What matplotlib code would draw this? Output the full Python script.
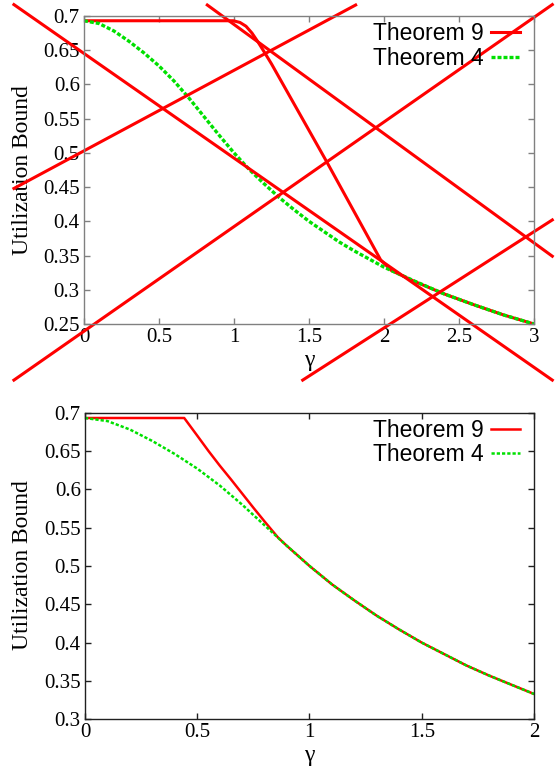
import numpy as np
import matplotlib
matplotlib.use('Agg')
import matplotlib.pyplot as plt

# Theorem 4 curve, shared by both panels
gamma_t4 = [0, 0.1, 0.2, 0.3, 0.4, 0.5, 0.6, 0.7, 0.8, 0.9, 1.0, 1.1, 1.2, 1.3, 1.4,
            1.5, 1.6, 1.7, 1.8, 1.9, 2.0, 2.2, 2.4, 2.6, 2.8, 3.0]
util_t4 = [0.693, 0.689, 0.678, 0.663, 0.646, 0.627, 0.605, 0.580, 0.553, 0.526, 0.500,
           0.476, 0.455, 0.435, 0.417, 0.400, 0.385, 0.370, 0.357, 0.345, 0.333, 0.313,
           0.294, 0.278, 0.263, 0.250]

# Theorem 9, top panel
gamma_t9_top = [0, 0.996, 1.04, 1.08, 1.12, 1.16, 1.2, 1.25, 1.618,
                1.978, 2.05, 2.2, 2.4, 2.6, 2.8, 3.0]
util_t9_top = [0.693, 0.693, 0.6905, 0.685, 0.675, 0.662, 0.648, 0.630, 0.487,
               0.3435, 0.328, 0.3125, 0.294, 0.278, 0.263, 0.250]

# Theorem 9, bottom panel
gamma_t9_bot = [0, 0.442, 0.5, 0.55, 0.6, 0.65, 0.7, 0.75, 0.8, 0.86, 0.9, 1.0, 1.1, 1.2,
                1.3, 1.4, 1.5, 1.6, 1.7, 1.8, 1.9, 2.0]
util_t9_bot = [0.693, 0.693, 0.670, 0.650, 0.631, 0.613, 0.5945, 0.576, 0.558, 0.537, 0.526,
               0.500, 0.476, 0.455, 0.435, 0.417, 0.400, 0.385, 0.370, 0.357, 0.345, 0.333]

# red strike lines drawn across the top panel (start gamma, start u, end gamma, end u)
strike_g0 = [-0.467, -0.467, -0.467, 0.822, 1.458]
strike_u0 = [0.7166, 0.448, 0.168, 0.716, 0.168]
strike_g1 = [3.122, 1.811, 3.122, 3.122, 3.122]
strike_u1 = [0.168, 0.716, 0.7166, 0.349, 0.402]

xticks_top = [0, 0.5, 1, 1.5, 2, 2.5, 3]
yticks_top = [0.25, 0.3, 0.35, 0.4, 0.45, 0.5, 0.55, 0.6, 0.65, 0.7]
xticks_bot = [0, 0.5, 1, 1.5, 2]
yticks_bot = [0.3, 0.35, 0.4, 0.45, 0.5, 0.55, 0.6, 0.65, 0.7]

serif = 'Liberation Serif'
sans = 'Liberation Sans'
red = '#ff0000'
green = '#00e000'

fig = plt.figure(figsize=(5.58, 7.71), dpi=100)
ax1 = fig.add_axes([0.1505, 0.5798, 0.8065, 0.3995])
ax2 = fig.add_axes([0.1523, 0.0671, 0.8047, 0.3977])


def style_axes(ax, xticks, yticks, xlim, ylim, frame_color):
    ax.set_xlim(*xlim)
    ax.set_ylim(*ylim)
    ax.set_xticks(xticks)
    ax.set_xticklabels(['%g' % t for t in xticks], family=serif)
    ax.set_yticks(yticks)
    ax.set_yticklabels(['%g' % t for t in yticks], family=serif)
    ax.tick_params(direction='in', top=True, right=True, length=4, width=1,
                   labelsize=15, pad=3, color=frame_color)
    for s in ax.spines.values():
        s.set_color(frame_color)
        s.set_linewidth(1)
    ax.set_ylabel('Utilization Bound', family=serif, fontsize=17)
    ax.set_xlabel('γ', family=serif, fontsize=17)
    ax.legend(loc='upper right', markerfirst=False, frameon=False,
              prop={'family': sans, 'size': 16.5}, handlelength=1.3,
              handletextpad=0.3, labelspacing=0.05, borderaxespad=0.1,
              bbox_to_anchor=(0.995, 1.016))


# top panel
ax1.plot(gamma_t9_top, util_t9_top, color=red, lw=2.2, label='Theorem 9')
ax1.plot(gamma_t4, util_t4, color=green, lw=2.4, ls=(0, (1.2, 0.6)), label='Theorem 4')
for i in range(len(strike_g0)):
    ax1.plot([strike_g0[i], strike_g1[i]], [strike_u0[i], strike_u1[i]],
             color=red, lw=2.2, clip_on=False)
style_axes(ax1, xticks_top, yticks_top, (0, 3), (0.25, 0.7), '#808080')
ax1.yaxis.set_label_coords(-0.113, 0.5)
ax1.xaxis.set_label_coords(0.5, -0.084)

# bottom panel
ax2.plot(gamma_t9_bot, util_t9_bot, color=red, lw=1.8, label='Theorem 9')
ax2.plot(gamma_t4[:21], util_t4[:21], color=green, lw=1.8, ls=(0, (1.3, 0.8)), label='Theorem 4')
style_axes(ax2, xticks_bot, yticks_bot, (0, 2), (0.3, 0.7), '#202020')
ax2.yaxis.set_label_coords(-0.116, 0.503)
ax2.xaxis.set_label_coords(0.5, -0.084)

fig.savefig('out.png', dpi=100)
